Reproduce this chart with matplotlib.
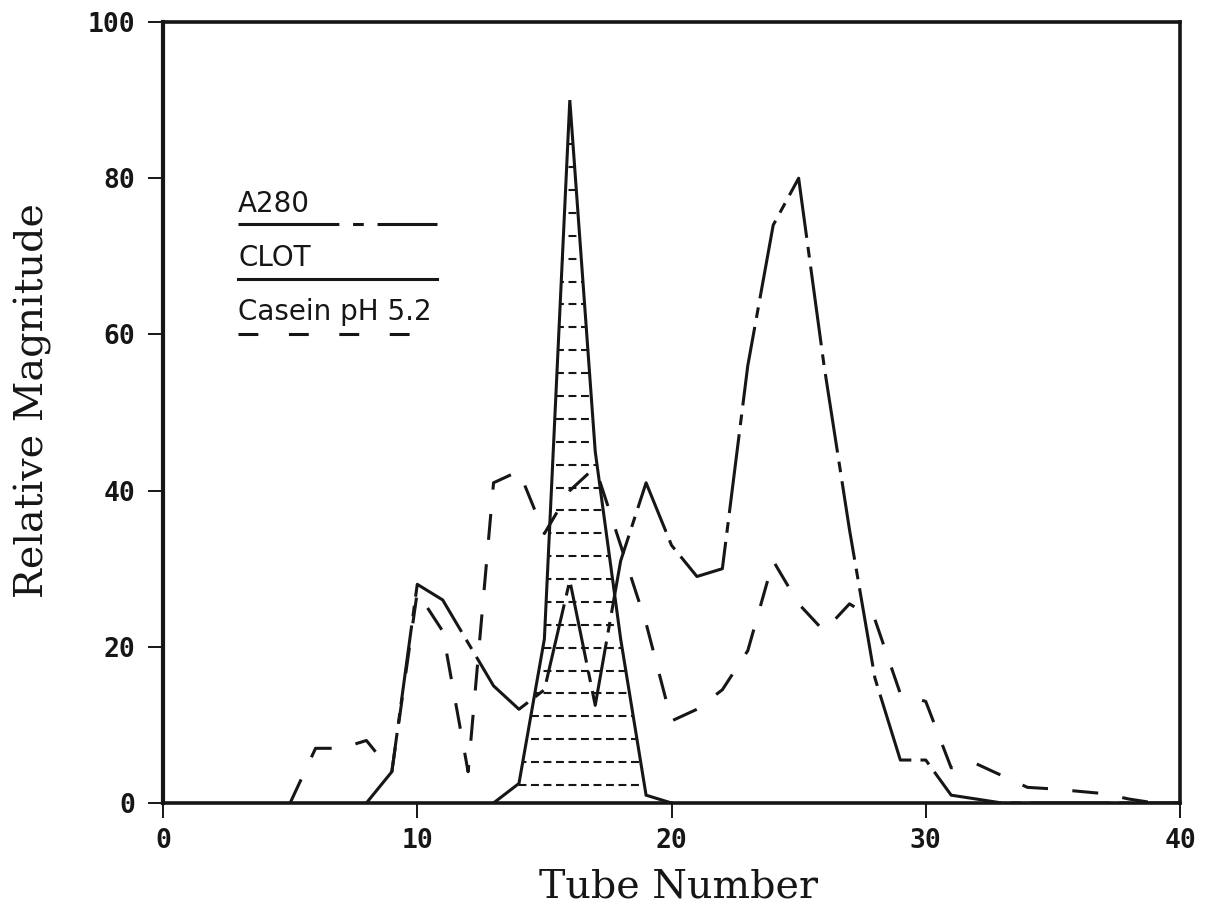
import numpy as np
import matplotlib
matplotlib.use("Agg")
import matplotlib.pyplot as plt
from matplotlib.patches import Polygon

# data
tube = list(range(8, 41))
a280 = [0, 4, 28, 26, 20.5, 15, 12, 14.5, 28.5, 12.5, 31, 41, 33, 29, 30,
        56, 74, 80, 56, 35, 16, 5.5, 5.5, 1, 0.5, 0, 0, 0, 0, 0, 0, 0, 0]

clot_tube = [13, 14, 15, 16, 17, 18, 19, 20]
clot = [0, 2.5, 21, 90, 45, 21, 1, 0]

casein_tube = list(range(5, 41))
casein = [0, 7, 7, 8, 4, 27, 22, 4, 41, 42.5, 34.5, 40, 43, 33, 23, 10.5,
          12, 14.5, 19.5, 31, 25.5, 22, 25.5, 23.5, 14, 13, 4.5, 5, 3.5, 2,
          1.8, 1.5, 1.2, 0.5, 0, 0]

xticks = [0, 10, 20, 30, 40]
yticks = [0, 20, 40, 60, 80, 100]
labels = ["A280", "CLOT", "Casein pH 5.2"]

ink = "#161616"
lw = 2.2
a280_style = (0, (26, 3, 3.5, 3))
casein_style = (0, (8.5, 8))

fig = plt.figure(figsize=(12.12, 9.10), dpi=100)
ax = fig.add_axes([0.1345, 0.1176, 0.8391, 0.8582])

ax.plot(tube, a280, color=ink, lw=lw, linestyle=a280_style, solid_joinstyle="miter")
ax.plot(clot_tube, clot, color=ink, lw=lw, solid_joinstyle="miter")
ax.plot(casein_tube, casein, color=ink, lw=lw, linestyle=casein_style)

# dashed horizontal shading inside the clot peak
tri = Polygon(np.column_stack([clot_tube, clot]), closed=True,
              facecolor="none", edgecolor="none")
ax.add_patch(tri)
levels = np.arange(2.3, 89, 2.93)
hl = ax.hlines(levels, 12.5, 20.5, colors=ink, linewidth=1.5,
               linestyles=[(0, (3.8, 2.2))])
hl.set_clip_path(tri)

# hand drawn style legend: label with its line sample underneath
x0, x1 = 0.074, 0.269
ty = [0.757, 0.687, 0.618]
ly = [0.741, 0.671, 0.600]
styles = [(0, (33, 4.5, 3.5, 4.5, 40, 10)), "-", (0, (6.5, 10))]
for lab, t, l, st in zip(labels, ty, ly, styles):
    ax.text(x0, t, lab, transform=ax.transAxes, fontsize=20,
            family="DejaVu Sans", color=ink, va="baseline")
    ax.plot([x0, x1], [l, l], transform=ax.transAxes, color=ink,
            lw=lw, linestyle=st)

ax.set_xlim(0, 40)
ax.set_ylim(0, 100)
ax.set_xticks(xticks)
ax.set_yticks(yticks)
for s in ax.spines.values():
    s.set_linewidth(2.6)
    s.set_color(ink)
ax.spines["left"].set_linewidth(3.0)
ax.tick_params(direction="out", length=11, width=1.4, color=ink,
               labelsize=19, labelcolor=ink)
ax.tick_params(axis="y", pad=9)
ax.tick_params(axis="x", pad=7)
for t in ax.get_xticklabels() + ax.get_yticklabels():
    t.set_family("DejaVu Sans Mono")
    t.set_fontweight("bold")

ax.set_xlabel("Tube Number", fontsize=28.5, family="DejaVu Serif", color=ink)
ax.set_ylabel("Relative Magnitude", fontsize=28.5, family="DejaVu Serif", color=ink)
ax.xaxis.set_label_coords(0.507, -0.084)
ax.yaxis.set_label_coords(-0.109, 0.516)

fig.savefig("out.png", dpi=100, facecolor="white")
